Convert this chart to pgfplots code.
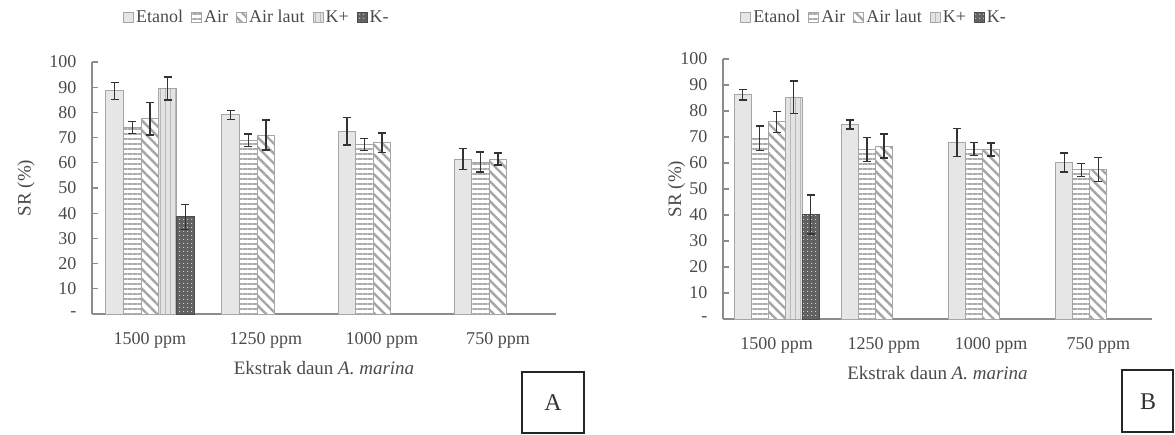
\documentclass[border=0pt]{standalone}
\usepackage{fontspec}
\setmainfont{Liberation Serif}
\usepackage{pgfplots}
\pgfplotsset{compat=1.18}
\usetikzlibrary{patterns,patterns.meta}

\definecolor{txt}{HTML}{4A4A4A}
\definecolor{axc}{HTML}{8C8C8C}
\definecolor{barb}{HTML}{A6A6A6}
\definecolor{etf}{HTML}{E6E6E6}

\pgfplotsset{
  srstyle/.style={
    scale only axis,
    ybar=0pt,
    xmin=-0.5, xmax=3.5,
    ymin=0, ymax=100,
    axis lines*=left,
    axis line style={axc, line width=1.2pt},
    xtick={0,1,2,3},
    xticklabels={1500 ppm,1250 ppm,1000 ppm,750 ppm},
    x tick style={draw=none},
    minor xtick={0.5,1.5,2.5,3.5},
    minor x tick style={axc, line width=1.2pt},
    minor tick length=7pt,
    tick align=inside,
    ytick={0,10,...,100},
    yticklabels={-,10,20,30,40,50,60,70,80,90,100},
    y tick style={axc, line width=1.2pt},
    major tick length=6pt,
    /pgf/number format/assume math mode=true,
    tick label style={font=\fontsize{18}{20}\selectfont, text=txt},
    xticklabel style={anchor=center, yshift=-26pt},
    yticklabel style={xshift=-9pt},
    label style={font=\fontsize{19}{22}\selectfont, text=txt},
    xlabel={Ekstrak daun \textit{A. marina}},
    ylabel={SR (\%)},
    legend style={draw=none, fill=none, legend columns=-1,
      font=\fontsize{18}{21}\selectfont, text=txt,
      /tikz/every even column/.append style={column sep=6pt}},
    error bars/y dir=both, error bars/y explicit,
    error bars/error bar style={line width=1.4pt, black!80},
    error bars/error mark options={rotate=90, mark size=4pt, line width=1.4pt, black!80},
    every axis plot post/.append style={
      legend image code/.code={\draw[##1] (0pt,-5pt) rectangle (10pt,5pt);}},
  },
  etanol/.style={fill=etf, draw=barb, line width=1pt},
  air/.style={fill=white, draw=barb, line width=1pt,
    postaction={pattern color=gray!65, pattern={Lines[angle=0,distance=5pt,line width=2pt]}}},
  airlaut/.style={fill=white, draw=barb, line width=1pt,
    postaction={pattern color=gray!70, pattern={Lines[angle=-45,distance=7pt,line width=2.4pt]}}},
  kplus/.style={fill=gray!22, draw=gray!70, line width=1pt,
    postaction={pattern color=gray!55, pattern={Lines[angle=90,distance=5pt,line width=1pt]}}},
  kmin/.style={fill=black!62, draw=gray!60!black, line width=1pt,
    postaction={pattern color=white!85!black, pattern={Dots[distance=4pt,radius=0.7pt]}}},
}

\begin{document}
\fontsize{19}{22}\selectfont
\begin{tikzpicture}
\useasboundingbox (0,0) rectangle (1175pt,434pt);

% ---------------- Panel A ----------------
\begin{axis}[srstyle,
  at={(92pt,120pt)}, anchor=south west,
  width=464pt, height=252pt,
  bar width=17.6pt,
  xlabel style={at={(axis description cs:0.5,-0.214)}, anchor=center},
  ylabel style={at={(axis description cs:-0.142,0.5)}, anchor=center},
  legend style={at={(axis description cs:0.06,1.175)}, anchor=west},
]
\addplot[etanol] coordinates {(0,88.5) +- (0,3.4) (1,79) +- (0,1.8) (2,72.5) +- (0,5.5) (3,61.5) +- (0,4.2)};
\addplot[air] coordinates {(0,74) +- (0,2.4) (1,69) +- (0,2.5) (2,67.2) +- (0,2.4) (3,60.3) +- (0,4)};
\addplot[airlaut] coordinates {(0,77.5) +- (0,6.5) (1,71) +- (0,6) (2,68) +- (0,3.8) (3,61.5) +- (0,2.4)};
\addplot[kplus] coordinates {(0,89.5) +- (0,4.6)};
\addplot[kmin] coordinates {(0,38.5) +- (0,5)};
\legend{Etanol,Air,Air laut,K+,K-}
\end{axis}

% ---------------- Panel B ----------------
\begin{axis}[srstyle,
  at={(723pt,115pt)}, anchor=south west,
  width=429pt, height=260pt,
  bar width=17pt,
  xlabel style={at={(axis description cs:0.5,-0.208)}, anchor=center},
  ylabel style={at={(axis description cs:-0.108,0.5)}, anchor=center},
  legend style={at={(axis description cs:0.033,1.158)}, anchor=west},
]
\addplot[etanol] coordinates {(0,86.2) +- (0,2) (1,74.8) +- (0,1.8) (2,67.8) +- (0,5.4) (3,60.2) +- (0,3.6)};
\addplot[air] coordinates {(0,69.6) +- (0,4.7) (1,65.2) +- (0,4.7) (2,65.3) +- (0,2.5) (3,57.4) +- (0,2.5)};
\addplot[airlaut] coordinates {(0,75.8) +- (0,4) (1,66.5) +- (0,4.6) (2,65.2) +- (0,2.5) (3,57.5) +- (0,4.7)};
\addplot[kplus] coordinates {(0,85.3) +- (0,6.2)};
\addplot[kmin] coordinates {(0,40.2) +- (0,7.5)};
\legend{Etanol,Air,Air laut,K+,K-}
\end{axis}

% panel tags
\draw[black!85, line width=2.5pt] (522pt,1pt) rectangle (584pt,62pt);
\node[font=\fontsize{24}{26}\selectfont, text=black!80] at (553pt,31pt) {A};
\draw[black!85, line width=2.5pt] (1122pt,2pt) rectangle (1173pt,64pt);
\node[font=\fontsize{24}{26}\selectfont, text=black!80] at (1148pt,32pt) {B};
\end{tikzpicture}
\end{document}
